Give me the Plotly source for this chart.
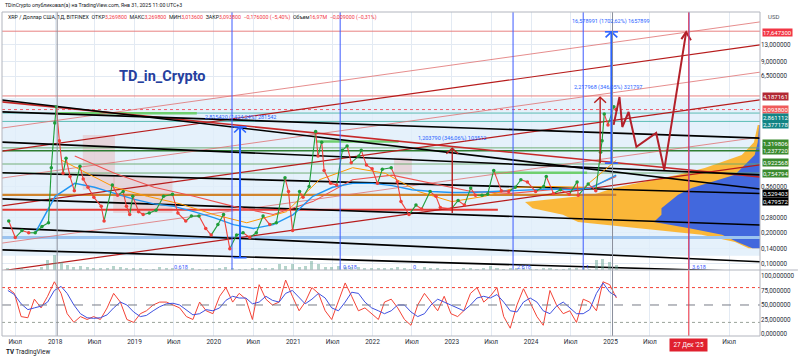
import math
import pandas as pd
import plotly.graph_objects as go

LEFT_DATE = "2017-05-01"
RIGHT_DATE = "2026-11-20"

# ---------------- price (approximate) ----------------
price_dates = ["2017-06-01","2017-07-01","2017-08-01","2017-09-01","2017-10-01","2017-11-01","2017-12-01","2017-12-14","2017-12-30",
    "2018-01-06","2018-01-20","2018-02-06","2018-02-20","2018-03-10","2018-03-30","2018-04-25","2018-05-10","2018-06-01","2018-06-28",
    "2018-08-01","2018-08-14","2018-09-21","2018-10-15","2018-11-10","2018-11-25","2018-12-10","2018-12-24",
    "2019-01-20","2019-02-10","2019-03-10","2019-04-10","2019-05-15","2019-06-25","2019-07-20","2019-08-25","2019-09-20","2019-10-25","2019-11-25","2019-12-20",
    "2020-01-20","2020-02-15","2020-03-15","2020-04-15","2020-05-15","2020-06-15","2020-07-15","2020-08-15","2020-09-15","2020-10-15","2020-11-24","2020-12-10","2020-12-29",
    "2021-01-30","2021-02-15","2021-03-15","2021-04-14","2021-04-25","2021-05-12","2021-05-23","2021-06-22","2021-07-20","2021-08-15","2021-09-06","2021-09-25","2021-10-30","2021-11-10","2021-12-04","2021-12-30",
    "2022-01-24","2022-02-15","2022-03-28","2022-04-25","2022-05-12","2022-06-18","2022-07-20","2022-08-15","2022-09-23","2022-10-20","2022-11-09","2022-12-30",
    "2023-01-30","2023-02-28","2023-03-29","2023-04-20","2023-05-20","2023-06-15","2023-07-13","2023-08-17","2023-09-20","2023-10-20","2023-11-15","2023-12-15",
    "2024-01-22","2024-02-28","2024-03-11","2024-04-13","2024-05-15","2024-06-25","2024-07-31","2024-08-05","2024-09-20","2024-10-25","2024-11-16","2024-11-23","2024-12-03","2024-12-20",
    "2025-01-16","2025-01-27"]
price_close = [0.26,0.18,0.21,0.20,0.20,0.23,0.25,0.85,2.30,
    3.30,1.55,0.75,1.05,0.70,0.51,0.88,0.66,0.55,0.44,
    0.36,0.26,0.58,0.46,0.50,0.36,0.30,0.45,
    0.32,0.30,0.31,0.33,0.45,0.47,0.31,0.26,0.29,0.29,0.22,0.19,
    0.24,0.30,0.14,0.19,0.20,0.18,0.20,0.29,0.24,0.25,0.68,0.50,0.21,
    0.50,0.44,0.56,1.90,1.10,1.50,0.80,0.60,0.58,1.25,1.38,0.95,1.10,1.25,0.90,0.83,
    0.60,0.82,0.85,0.62,0.40,0.30,0.37,0.34,0.50,0.45,0.35,0.34,
    0.41,0.37,0.54,0.46,0.46,0.47,0.80,0.51,0.50,0.55,0.65,0.62,
    0.50,0.56,0.70,0.48,0.52,0.47,0.62,0.46,0.59,0.51,1.20,1.55,2.80,2.20,
    3.30,3.09]

ma_blue_dates = ["2017-10-01","2018-01-01","2018-04-01","2018-07-01","2018-10-01","2019-01-01","2019-04-01","2019-07-01","2019-10-01",
    "2020-01-01","2020-04-01","2020-07-01","2020-10-01","2021-01-01","2021-04-01","2021-07-01","2021-10-01","2022-01-01","2022-04-01",
    "2022-07-01","2022-10-01","2023-01-01","2023-04-01","2023-07-01","2023-10-01","2024-01-01","2024-04-01","2024-07-01","2024-10-01","2025-01-27"]
ma_blue = [0.20,0.45,0.60,0.55,0.48,0.42,0.38,0.36,0.32,0.28,0.24,0.22,0.24,0.30,0.45,0.55,0.60,0.60,0.57,
    0.52,0.50,0.49,0.49,0.50,0.51,0.52,0.53,0.52,0.54,0.72]
ma_orange_dates = ["2018-02-01","2018-06-01","2018-10-01","2019-03-01","2019-08-01","2020-01-01","2020-06-01","2020-12-01","2021-05-01",
    "2021-10-01","2022-03-01","2022-08-01","2023-01-01","2023-06-01","2023-11-01","2024-04-01","2024-09-01","2025-01-27"]
ma_orange = [1.00,0.75,0.55,0.45,0.38,0.30,0.25,0.32,0.65,0.85,0.75,0.50,0.40,0.45,0.55,0.56,0.55,1.00]
ma_red_dates = ["2018-04-01","2018-10-01","2019-04-01","2019-10-01","2020-04-01","2020-10-01","2021-04-01","2021-10-01","2022-04-01",
    "2022-10-01","2023-04-01","2023-10-01","2024-04-01","2024-10-01","2025-01-27"]
ma_red = [1.10,0.75,0.55,0.45,0.36,0.30,0.40,0.65,0.72,0.60,0.50,0.48,0.52,0.55,0.70]

# ---------------- oscillator (monthly) ----------------
osc_k = [79,70,30,28,60,45,65,90,70,35,20,30,25,30,25,45,70,55,25,20,35,40,50,55,55,50,45,30,25,55,
    40,35,65,80,55,70,60,25,85,60,50,55,93,65,40,55,80,70,40,25,55,88,65,40,45,35,25,55,60,45,
    25,15,50,70,55,40,65,35,30,40,70,80,55,65,80,30,10,50,78,55,30,15,75,50,35,40,20,60,55,40,90,85,62]
osc_d = [75,68,52,42,45,48,55,75,82,70,50,35,28,27,28,33,45,55,50,38,30,32,40,47,52,53,50,42,33,35,
    42,40,45,58,65,62,62,52,55,65,58,55,70,75,62,52,60,70,62,45,40,55,72,70,55,45,40,35,40,50,
    50,38,30,35,50,60,55,50,45,40,50,62,65,62,68,55,40,38,55,62,55,40,35,48,55,45,35,35,42,70,88,72,65]
volume = [5,4,5,4,4,8,30, 45,25,15,10,12,8,6,5,6,12,8,6, 5,5,4,4,8,6,5,4,4,5,4,4,
    4,5,8,5,4,4,6,6,5,6,20,12, 18,10,12,28,20,10,8,12,8,8,8,6, 5,5,5,5,8,5,4,4,8,5,6,4,
    4,4,6,5,4,5,12,5,4,5,6,5, 4,4,6,5,4,4,5,6,5,4,30,35, 25,15]
osc_dates = (pd.date_range("2017-06-01", periods=len(osc_k), freq="MS") - pd.Timedelta(days=4)).strftime("%Y-%m-%d").tolist()
vol_dates = (pd.date_range("2017-06-01", periods=len(volume), freq="MS") - pd.Timedelta(days=4)).strftime("%Y-%m-%d").tolist()

# ---------------- drawings ----------------
black_start = [3.83, 2.94, 1.50, 0.76, 0.425, 0.223, 0.137]
black_end = [0.5294, 1.64, 0.725, 0.4796, 0.238, 0.105, 0.084]
rise_start = [2.05, 1.23, 0.675, 0.363, 0.159, 0.086]
rise_end = [21.7, 13.0, 7.1, 3.83, 1.68, 0.904]
fall_start = [3.67]
fall_end = [0.69]

levels_red = [17.6473, 4.187161]
levels_teal = [2.861112, 2.377178]
levels_green = [1.319806, 1.23772, 0.922568, 0.754794]
last_price = 3.0938

thick_levels = [0.465, 0.333, 0.18]
thick_start = [LEFT_DATE, LEFT_DATE, LEFT_DATE]
thick_end = ["2025-01-27", "2023-08-01", RIGHT_DATE]

green_seg_price = [2.85, 1.52, 0.76]
green_seg_start = ["2018-01-10", "2021-04-15", "2023-07-15"]
green_seg_end = ["2019-10-15", "2022-05-01", "2024-09-15"]

box_start = ["2018-05-08", "2018-09-25", "2022-04-10"]
box_end = ["2018-10-03", "2019-06-25", "2022-07-01"]
box_high = [1.76, 0.69, 1.06]
box_low = [0.52, 0.31, 0.72]

band_low, band_high = 0.12, 4.0

vp_prices = [2.19, 1.50, 1.13, 0.846, 0.725, 0.62, 0.54, 0.465, 0.397, 0.346, 0.298, 0.254, 0.222, 0.191, 0.163, 0.142]
vp_total = [0.3, 0.8, 2.4, 7.3, 10.8, 15.3, 19.3, 22, 31, 30, 26, 24, 16, 7.7, 3.3, 1.5]
vp_blue = [0.1, 0.3, 0.7, 2.4, 3.3, 6.4, 9, 10.8, 12, 13, 13, 14, 9.5, 5, 3, 1]

proj_dates = ["2025-01-15","2025-02-11","2025-02-24","2025-03-25","2025-04-30","2025-07-30","2025-09-05","2025-12-15"]
proj_prices = [2.2, 4.09, 2.10, 2.93, 1.35, 1.84, 0.81, 17.3]

blue_measure_dates = ["2020-05-01", "2025-01-05"]
blue_measure_low = [0.115, 0.94]
blue_measure_high = [2.10, 17.4]
blue_measure_text = ["2,815420 (1424,24%) 281542", "16,578991 (1702,62%) 1657899"]
blue_text_price = [2.62, 21.7]
red_measure_dates = ["2023-01-03", "2024-11-14"]
red_measure_low = [0.31, 0.94]
red_measure_high = [1.31, 4.07]
red_measure_text = ["1,203790 (346,06%) 103512", "2,217968 (346,05%) 321797"]
red_text_price = [1.64, 5.1]
red_text_dates = ["2023-01-03", "2024-12-20"]

vline_blue = ["2020-03-25", "2021-08-05", "2023-10-10", "2024-08-28", "2025-12-28"]
vline_gray = ["2018-01-10", "2025-01-10"]
fib_dates = ["2019-06-22", "2021-08-10", "2022-06-25", "2023-10-20", "2024-09-02", "2026-01-02"]
fib_text = ["0.618", "0.618", "0", "2.618", "1", "3.618"]
target_date = "2025-12-27"

x_ticks = ["2017-07-01"] + [f"{y}-{m}-01" for y in range(2018, 2027) for m in ("01", "07")]
x_ticktext = ["Июл"] + [t for y in range(2018, 2027) for t in ((str(y) if y < 2026 else ""), "Июл")]
y_ticks = [0.1, 0.14, 0.2, 0.28, 0.56, 6.5, 9, 13]
osc_ticks = [0, 25, 50, 75, 100]

FONT = "Roboto"
fig = go.Figure()
L = math.log10


def fmt(v):
    return f"{v:.6f}".replace(".", ",")


def line(xs, ys, color, width=1.0, dash="solid", xa="x4", ya="y", mode="lines"):
    fig.add_trace(go.Scatter(x=xs, y=ys, mode=mode, line=dict(color=color, width=width, dash=dash),
                             xaxis=xa, yaxis=ya, hoverinfo="skip", showlegend=False))


# base subplot: background band + volume profile
fig.add_trace(go.Scatter(x=[0, 100, 100, 0, 0], y=[band_low, band_low, band_high, band_high, band_low], mode="lines",
                         fill="toself", fillcolor="rgba(222,237,250,0.8)", line=dict(width=0),
                         xaxis="x", yaxis="y", hoverinfo="skip", showlegend=False))
fig.add_trace(go.Scatter(x=vp_total, y=vp_prices, mode="lines", fill="tozerox", fillcolor="rgba(252,178,40,0.92)",
                         line=dict(width=0, color="#fbb22a"), xaxis="x", yaxis="y", hoverinfo="skip", showlegend=False))
fig.add_trace(go.Scatter(x=vp_blue, y=vp_prices, mode="lines", fill="tozerox", fillcolor="rgba(45,95,240,0.9)",
                         line=dict(width=0, color="#2d5ff0"), xaxis="x", yaxis="y", hoverinfo="skip", showlegend=False))

# pink boxes
for d0, d1, hi, lo in zip(box_start, box_end, box_high, box_low):
    fig.add_trace(go.Scatter(x=[d0, d1, d1, d0, d0], y=[lo, lo, hi, hi, lo], mode="lines", fill="toself",
                             fillcolor="rgba(233,160,160,0.35)", line=dict(width=0), xaxis="x4", yaxis="y",
                             hoverinfo="skip", showlegend=False))

# horizontal levels
for v in levels_red:
    line([LEFT_DATE, RIGHT_DATE], [v, v], "#e57373", 0.9)
for v in levels_teal:
    line([LEFT_DATE, RIGHT_DATE], [v, v], "#4db6ac", 0.9)
for i, v in enumerate(levels_green):
    line([LEFT_DATE, RIGHT_DATE], [v, v], "#2e7d32" if i == 1 else "#66a86a", 1.4 if i == 1 else 0.9)
line([LEFT_DATE, RIGHT_DATE], [last_price, last_price], "#f23645", 0.8, "dot")
thick_colors = ["#d0842c", "#e53935", "#9cc4f0"]
thick_w = [2.2, 2.0, 3.0]
for v, d0, d1, c, w in zip(thick_levels, thick_start, thick_end, thick_colors, thick_w):
    line([d0, d1], [v, v], c, w)
for v, d0, d1 in zip(green_seg_price, green_seg_start, green_seg_end):
    line([d0, d1], [v, v], "#6fcf6f", 2.5)

# trend lines
for i, (a, b) in enumerate(zip(rise_start, rise_end)):
    line([LEFT_DATE, RIGHT_DATE], [a, b], "#b71c1c" if i % 2 else "#e07070", 1.2 if i % 2 else 0.8)
for a, b in zip(fall_start, fall_end):
    line([LEFT_DATE, RIGHT_DATE], [a, b], "#c62828", 1.6)
for a, b in zip(black_start, black_end):
    line([LEFT_DATE, RIGHT_DATE], [a, b], "#000000", 1.6)

# moving averages
line(ma_red_dates, ma_red, "#ef5350", 1.1)
line(ma_orange_dates, ma_orange, "#ff9800", 1.0)
line(ma_blue_dates, ma_blue, "#2196f3", 1.4)

# price, coloured by direction
ux, uy, dx, dy = [], [], [], []
for i in range(len(price_close) - 1):
    tx, ty = (ux, uy) if price_close[i + 1] >= price_close[i] else (dx, dy)
    tx += [price_dates[i], price_dates[i + 1], None]
    ty += [price_close[i], price_close[i + 1], None]
line(ux, uy, "#1f9d3a", 1.1)
line(dx, dy, "#f0403a", 1.1)
mcol = ["#1f9d3a"] + ["#1f9d3a" if price_close[i] >= price_close[i - 1] else "#f0403a" for i in range(1, len(price_close))]
fig.add_trace(go.Scatter(x=price_dates, y=price_close, mode="markers", marker=dict(size=3.5, color=mcol),
                         xaxis="x4", yaxis="y", hoverinfo="skip", showlegend=False))

# projection path
line(proj_dates, proj_prices, "#b3202a", 2.0)
pe = pd.Timestamp(proj_dates[-1])
line([pe - pd.Timedelta(days=22), pe, pe + pd.Timedelta(days=22)],
     [proj_prices[-1] / 1.17, proj_prices[-1], proj_prices[-1] / 1.2], "#b3202a", 2.0)

# measure arrows
half = pd.Timedelta(days=30)
for d, lo, hi in zip(blue_measure_dates, blue_measure_low, blue_measure_high):
    t = pd.Timestamp(d)
    line([t, t], [lo, hi], "#2962ff", 2.0)
    line([t - half, t + half], [lo, lo], "#2962ff", 1.6)
    line([t - half, t + half], [hi, hi], "#2962ff", 1.6)
    line([t - half * 0.9, t, t + half * 0.9], [hi / 1.13, hi, hi / 1.13], "#2962ff", 1.6)
for d, lo, hi in zip(red_measure_dates, red_measure_low, red_measure_high):
    t = pd.Timestamp(d)
    line([t, t], [lo, hi], "#b71c1c", 1.4)
    line([t - half * 0.9, t, t + half * 0.9], [hi / 1.13, hi, hi / 1.13], "#b71c1c", 1.4)

# volume bars
fig.add_trace(go.Bar(x=vol_dates, y=volume, marker=dict(color="rgba(90,160,140,0.45)", line=dict(width=0)),
                     width=14 * 86400000, xaxis="x4", yaxis="y3", hoverinfo="skip", showlegend=False))

# oscillator
line(osc_dates, osc_k, "#f44336", 1.0, xa="x5", ya="y2")
line(osc_dates, osc_d, "#3f51e0", 1.0, xa="x5", ya="y2")

shapes = []
for lev, c, dsh in [(80, "#f44336", "dot"), (50, "#787b86", "dash"), (20, "#9aa39a", "dot")]:
    shapes.append(dict(type="line", xref="x5 domain", yref="y2", x0=0, x1=1, y0=lev, y1=lev,
                       line=dict(color=c, width=1, dash=dsh)))
for d in vline_blue:
    shapes.append(dict(type="line", xref="x4", yref="paper", x0=d, x1=d, y0=0.2037, y1=1,
                       line=dict(color="#3d5afe", width=1)))
for d in vline_gray:
    shapes.append(dict(type="line", xref="x4", yref="paper", x0=d, x1=d, y0=0, y1=1,
                       line=dict(color="#8a8f9c", width=1)))
shapes.append(dict(type="line", xref="x4", yref="paper", x0=target_date, x1=target_date, y0=0, y1=1,
                   line=dict(color="#f23645", width=1)))
shapes.append(dict(type="line", xref="paper", yref="paper", x0=0, x1=1.05, y0=0.2037, y1=0.2037,
                   line=dict(color="#b2b5be", width=1)))
shapes.append(dict(type="rect", xref="paper", yref="paper", x0=0, x1=1, y0=0, y1=1,
                   line=dict(color="#b2b5be", width=1)))

ann = []
label_specs = [(17.6473, "#f23645", -1.7), (4.187161, "#b22833", -1), (3.0938, "#ef5a5a", 0),
               (2.861112, "#128484", -4), (2.377178, "#128484", -3), (1.319806, "#3a8a2e", 4.4),
               (1.23772, "#3a8a2e", 0), (0.922568, "#3a8a2e", 2), (0.754794, "#3a8a2e", 0),
               (0.529403, "#000000", -4.5), (0.479572, "#000000", -8)]
for v, bg, sh in label_specs:
    ann.append(dict(x=1, xref="paper", xanchor="left", xshift=2, y=L(v), yref="y", yshift=sh, yanchor="middle",
                    text=fmt(v), showarrow=False, bgcolor=bg, borderpad=0,
                    font=dict(family=FONT, size=6, color="white")))
ann.append(dict(x=1, xref="paper", xanchor="left", xshift=6, y=0.985, yref="paper", yanchor="middle", text="USD",
                showarrow=False, font=dict(family=FONT, size=6, color="#50535e")))
ann.append(dict(x="2019-05-08", xref="x4", y=0.805, yref="y", text="<b>TD_in_Crypto</b>", showarrow=False,
                font=dict(family=FONT, size=14.5, color="#25409e")))
for d, p, t in zip(blue_measure_dates, blue_text_price, blue_measure_text):
    ann.append(dict(x=d, xref="x4", y=L(p), yref="y", text=t, showarrow=False,
                    font=dict(family=FONT, size=5.5, color="#2962ff")))
for d, p, t in zip(red_text_dates, red_text_price, red_measure_text):
    ann.append(dict(x=d, xref="x4", y=L(p), yref="y", text=t, showarrow=False,
                    font=dict(family=FONT, size=5.5, color="#2962ff")))
for d, t in zip(fib_dates, fib_text):
    ann.append(dict(x=d, xref="x4", y=L(0.093), yref="y", xanchor="left", text=t, showarrow=False,
                    font=dict(family=FONT, size=5.5, color="#3d5afe")))
ann.append(dict(x=0.0013, xref="paper", y=1.0216, yref="paper", xanchor="left", yanchor="middle",
                text="TDinCrypto опубликовал(а) на TradingView.com, Янв 31, 2025 11:00 UTC+3", showarrow=False,
                font=dict(family=FONT, size=5.2, color="#131722")))
R = "#f23645"
hdr = ("XRP / Доллар США, 1Д, BITFINEX  ОТКР<span style='color:%s'>3,269800</span>  МАКС<span style='color:%s'>3,269800</span>"
       "  МИН<span style='color:%s'>3,013600</span>  ЗАКР<span style='color:%s'>3,093800</span>  "
       "<span style='color:%s'>−0,176000 (−5,40%%)</span>  Объем<span style='color:%s'>16,97M</span>"
       "  <span style='color:%s'>−0,009000 (−0,31%%)</span>") % ((R,) * 7)
ann.append(dict(x=0.005, xref="paper", y=0.9815, yref="paper", xanchor="left", yanchor="middle", text=hdr,
                showarrow=False, font=dict(family=FONT, size=5.3, color="#131722")))
ann.append(dict(x=target_date, xref="x5", y=0, yref="paper", yanchor="top", yshift=-2, text=" 27 Дек '25 ",
                showarrow=False, bgcolor="#e0202e", borderpad=2, font=dict(family=FONT, size=6.3, color="white")))
ann.append(dict(x=0.003, xref="paper", y=-0.049, yref="paper", xanchor="left", yanchor="middle",
                text="<b>TV</b> TradingView", showarrow=False, font=dict(family=FONT, size=6.3, color="#131722")))

grid = "#e3eaf3"
fig.update_layout(
    width=800, height=363, margin=dict(l=2, r=40, t=12, b=27),
    paper_bgcolor="white", plot_bgcolor="white", showlegend=False, bargap=0,
    font=dict(family=FONT, size=7, color="#2a2e39"),
    xaxis=dict(range=[100, 0], domain=[0, 1], anchor="y", visible=False, fixedrange=True),
    xaxis4=dict(type="date", range=[LEFT_DATE, RIGHT_DATE], overlaying="x", anchor="y", showticklabels=False,
                tickmode="array", tickvals=x_ticks, showgrid=True, gridcolor=grid, gridwidth=1, zeroline=False),
    xaxis5=dict(type="date", range=[LEFT_DATE, RIGHT_DATE], domain=[0, 1], anchor="y2", tickmode="array",
                tickvals=x_ticks, ticktext=x_ticktext, showgrid=True, gridcolor=grid, ticks="",
                tickfont=dict(family=FONT, size=6.5, color="#2a2e39"), zeroline=False),
    yaxis=dict(type="log", range=[-1.058, 1.432], domain=[0.2037, 1], anchor="x", side="right",
               tickmode="array", tickvals=y_ticks, ticktext=[fmt(v) for v in y_ticks], showgrid=True,
               gridcolor=grid, ticks="", tickfont=dict(family=FONT, size=6.3, color="#2a2e39"), zeroline=False),
    yaxis2=dict(range=[-3.45, 110.3], domain=[0, 0.2037], anchor="x5", side="right", tickmode="array",
                tickvals=osc_ticks, ticktext=[fmt(v) for v in osc_ticks], showgrid=False, ticks="",
                tickfont=dict(family=FONT, size=6.3, color="#2a2e39"), zeroline=False),
    yaxis3=dict(range=[0, 800], overlaying="y", anchor="x4", visible=False),
    shapes=shapes, annotations=ann,
)
fig.write_html("out.html", config={"displayModeBar": False},
               post_script="document.body.style.margin='0px';document.body.style.overflow='hidden';")
